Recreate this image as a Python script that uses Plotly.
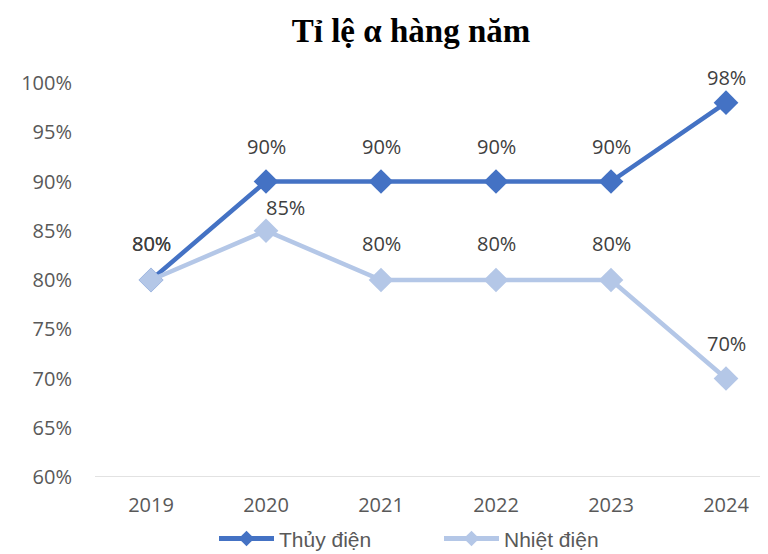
import plotly.graph_objects as go

years = ["2019", "2020", "2021", "2022", "2023", "2024"]
thuy_dien = [80, 90, 90, 90, 90, 98]
nhiet_dien = [80, 85, 80, 80, 80, 70]
y_ticks = [60, 65, 70, 75, 80, 85, 90, 95, 100]
y_tick_labels = [f"{v}%" for v in y_ticks]

# label offsets (pixels above each point)
thuy_shift = [37, 35, 35, 35, 35, 25]
nhiet_shift = [37, 23, 37, 37, 37, 35]
nhiet_xshift = [0, 19, 0, 0, 0, 0]

c_thuy = "#4472C4"
c_nhiet = "#B4C7E7"

xs = list(range(len(years)))

fig = go.Figure()
fig.add_trace(go.Scatter(
    x=xs, y=thuy_dien, name="Thủy điện", mode="lines+markers",
    line=dict(color=c_thuy, width=4.5),
    marker=dict(symbol="diamond", size=19, color=c_thuy),
))
fig.add_trace(go.Scatter(
    x=xs, y=nhiet_dien, name="Nhiệt điện", mode="lines+markers",
    line=dict(color=c_nhiet, width=4.5),
    marker=dict(symbol="diamond", size=19, color=c_nhiet),
))

lab_font = dict(family="Open Sans, Liberation Sans, sans-serif", size=20, color="#404040")
annotations = []
for i, v in enumerate(thuy_dien):
    annotations.append(dict(x=xs[i], y=v, text=f"{v}%", showarrow=False,
                            yshift=thuy_shift[i], font=lab_font))
for i, v in enumerate(nhiet_dien):
    annotations.append(dict(x=xs[i], y=v, text=f"{v}%", showarrow=False,
                            yshift=nhiet_shift[i], xshift=nhiet_xshift[i], font=lab_font))

tick_font = dict(family="Open Sans, Liberation Sans, sans-serif", size=20, color="#595959")

W, H = 760, 546  # page body has an 8px margin

fig.update_layout(
    width=W, height=H,
    paper_bgcolor="white", plot_bgcolor="white",
    margin=dict(l=87, r=3, t=75, b=77, autoexpand=False),
    title=dict(text="<b>Tỉ lệ α hàng năm</b>", x=403 / W, xanchor="center",
               yref="container", y=1 - 22 / H, yanchor="middle", automargin=False,
               font=dict(family="Liberation Serif, Times New Roman, serif", size=33, color="black")),
    xaxis=dict(
        tickmode="array", tickvals=xs, ticktext=years, automargin=False,
        range=[-0.487, 5.339], showgrid=False, zeroline=False,
        showline=False, ticks="", ticklabelstandoff=14,
        tickfont=tick_font,
    ),
    yaxis=dict(
        tickmode="array", tickvals=y_ticks, ticktext=y_tick_labels, automargin=False,
        range=[60, 100], showgrid=False, zeroline=False, showline=False,
        ticks="", ticklabelstandoff=22,
        tickfont=tick_font,
    ),
    legend=dict(orientation="h", x=(214 - 87 - 8) / 670, xanchor="left",
                y=-0.105, yanchor="top",
                font=dict(family="Liberation Sans, sans-serif", size=21, color="#595959"),
                itemwidth=55, entrywidth=155, entrywidthmode="pixels",
                traceorder="normal", itemsizing="constant"),
    annotations=annotations,
    showlegend=True,
)
fig.add_shape(type="line", xref="paper", yref="y", x0=0, x1=1, y0=60, y1=60,
              line=dict(color="#D9D9D9", width=1.5), layer="below")

fig.write_html("out.html")
